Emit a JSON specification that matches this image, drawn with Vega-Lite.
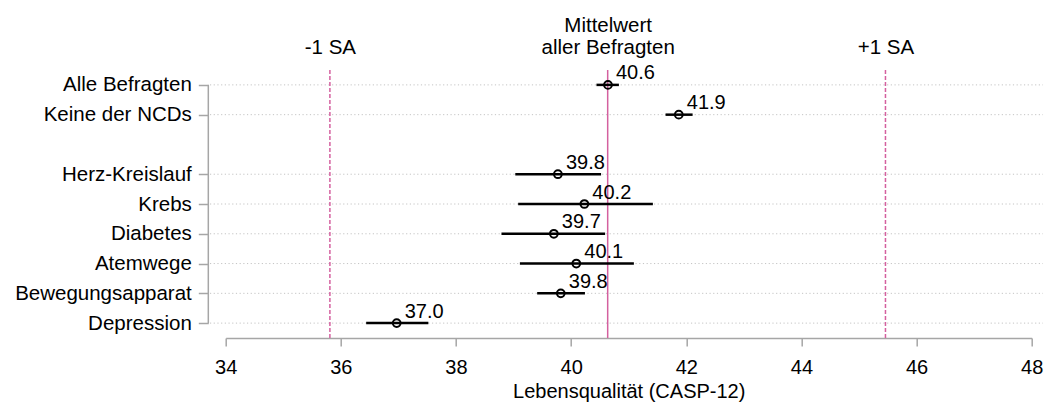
{
  "$schema": "https://vega.github.io/schema/vega-lite/v6.json",
  "autosize": "none",
  "width": 806,
  "height": 268,
  "padding": {"left": 225.7, "top": 70, "right": 14.3, "bottom": 69},
  "background": "white",
  "config": {
    "view": {"stroke": null},
    "font": "Liberation Sans",
    "axis": {"labelColor": "#000000", "titleColor": "#000000", "titleFontWeight": "normal"}
  },
  "datasets": {
    "rows": [
      {"label": "Alle Befragten", "mean": 40.64, "lo": 40.44, "hi": 40.83},
      {"label": "Keine der NCDs", "mean": 41.87, "lo": 41.64, "hi": 42.11},
      {"label": "Herz-Kreislauf", "mean": 39.77, "lo": 39.03, "hi": 40.52},
      {"label": "Krebs", "mean": 40.23, "lo": 39.08, "hi": 41.42},
      {"label": "Diabetes", "mean": 39.7, "lo": 38.79, "hi": 40.59},
      {"label": "Atemwege", "mean": 40.09, "lo": 39.11, "hi": 41.09},
      {"label": "Bewegungsapparat", "mean": 39.82, "lo": 39.41, "hi": 40.24},
      {"label": "Depression", "mean": 36.97, "lo": 36.44, "hi": 37.52}
    ],
    "lines": [
      {"name": "-1 SA", "value": 35.81, "kind": "sd"},
      {"name": "Mittelwert aller Befragten", "value": 40.635, "kind": "mean"},
      {"name": "+1 SA", "value": 45.46, "kind": "sd"}
    ]
  },
  "resolve": {"axis": {"x": "independent", "y": "independent"}},
  "layer": [
    {
      "data": {"name": "rows"},
      "mark": {"type": "rule", "color": "#c4c4c4", "strokeWidth": 1, "strokeDash": [1.2, 2.5]},
      "encoding": {
        "y": {"field": "label", "type": "nominal",
              "scale": {"type": "point", "padding": 0.5,
                        "domain": ["Alle Befragten", "Keine der NCDs", " ", "Herz-Kreislauf", "Krebs", "Diabetes", "Atemwege", "Bewegungsapparat", "Depression"]},
              "axis": {
                "orient": "left", "offset": 17.4,
                "values": ["Alle Befragten", "Keine der NCDs", "Herz-Kreislauf", "Krebs", "Diabetes", "Atemwege", "Bewegungsapparat", "Depression"],
                "domain": false, "ticks": true, "tickSize": 10, "tickColor": "#a6a6a6", "tickWidth": 1.5,
                "labelFontSize": 20.5, "labelPadding": 7, "labelBaseline": "middle", "grid": false, "title": null
              }},
        "x": {"datum": 33.727, "type": "quantitative", "axis": null,
              "scale": {"domain": [34, 48], "nice": false, "zero": false}},
        "x2": {"datum": 48.197}
      }
    },
    {
      "data": {"name": "lines"},
      "mark": {"type": "rule", "color": "#d4609f", "strokeWidth": 1.5},
      "encoding": {
        "x": {"field": "value", "type": "quantitative",
              "scale": {"domain": [34, 48], "nice": false, "zero": false},
              "axis": {
                "orient": "top", "values": [35.81, 40.635, 45.46],
                "labelExpr": "datum.value < 38 ? '-1 SA' : (datum.value > 43 ? '+1 SA' : ['Mittelwert', 'aller Befragten'])",
                "domain": false, "ticks": false, "tickSize": 0, "grid": false,
                "labelFontSize": 20.5, "labelBaseline": "alphabetic",
                "labelPadding": {"condition": {"test": "datum.value > 40 && datum.value < 41", "value": 38.3}, "value": 16.7},
                "labelLineHeight": 21.6, "labelFlush": false, "labelOverlap": false,
                "title": null
              }},
        "strokeDash": {"field": "kind", "type": "nominal", "legend": null,
                       "scale": {"domain": ["mean", "sd"], "range": [[1, 0], [4, 2]]}}
      }
    },
    {
      "data": {"values": [{}]},
      "mark": {"type": "rule", "color": "#a6a6a6", "strokeWidth": 1.5},
      "encoding": {
        "x": {"datum": 33.698, "type": "quantitative", "axis": null},
        "y": {"datum": "Alle Befragten", "type": "nominal", "axis": null},
        "y2": {"datum": "Depression"}
      }
    },
    {
      "data": {"name": "rows"},
      "mark": {"type": "rule", "color": "#000000", "strokeWidth": 2.5},
      "encoding": {
        "y": {"field": "label", "type": "nominal", "axis": null},
        "x": {"field": "lo", "type": "quantitative",
              "scale": {"domain": [34, 48], "nice": false, "zero": false},
              "axis": {
                "orient": "bottom", "values": [34, 36, 38, 40, 42, 44, 46, 48],
                "domain": true, "domainColor": "#a6a6a6", "domainWidth": 1.5,
                "ticks": true, "tickSize": 8, "tickColor": "#a6a6a6", "tickWidth": 1.5,
                "labelFontSize": 20, "labelBaseline": "alphabetic", "labelPadding": 27,
                "labelFlush": false, "grid": false,
                "title": "Lebensqualität (CASP-12)", "titleFontSize": 20,
                "titleBaseline": "alphabetic", "titleY": 59
              }},
        "x2": {"field": "hi"}
      }
    },
    {
      "data": {"name": "rows"},
      "mark": {"type": "point", "shape": "circle", "filled": false, "stroke": "#000000", "strokeWidth": 2, "size": 60, "opacity": 1},
      "encoding": {
        "y": {"field": "label", "type": "nominal", "axis": null},
        "x": {"field": "mean", "type": "quantitative", "axis": null}
      }
    },
    {
      "data": {"name": "rows"},
      "mark": {"type": "text", "align": "left", "baseline": "alphabetic", "dx": 8, "dy": -5.5, "fontSize": 20, "color": "#000000"},
      "encoding": {
        "y": {"field": "label", "type": "nominal", "axis": null},
        "x": {"field": "mean", "type": "quantitative", "axis": null},
        "text": {"field": "mean", "type": "quantitative", "format": ".1f"}
      }
    }
  ]
}
